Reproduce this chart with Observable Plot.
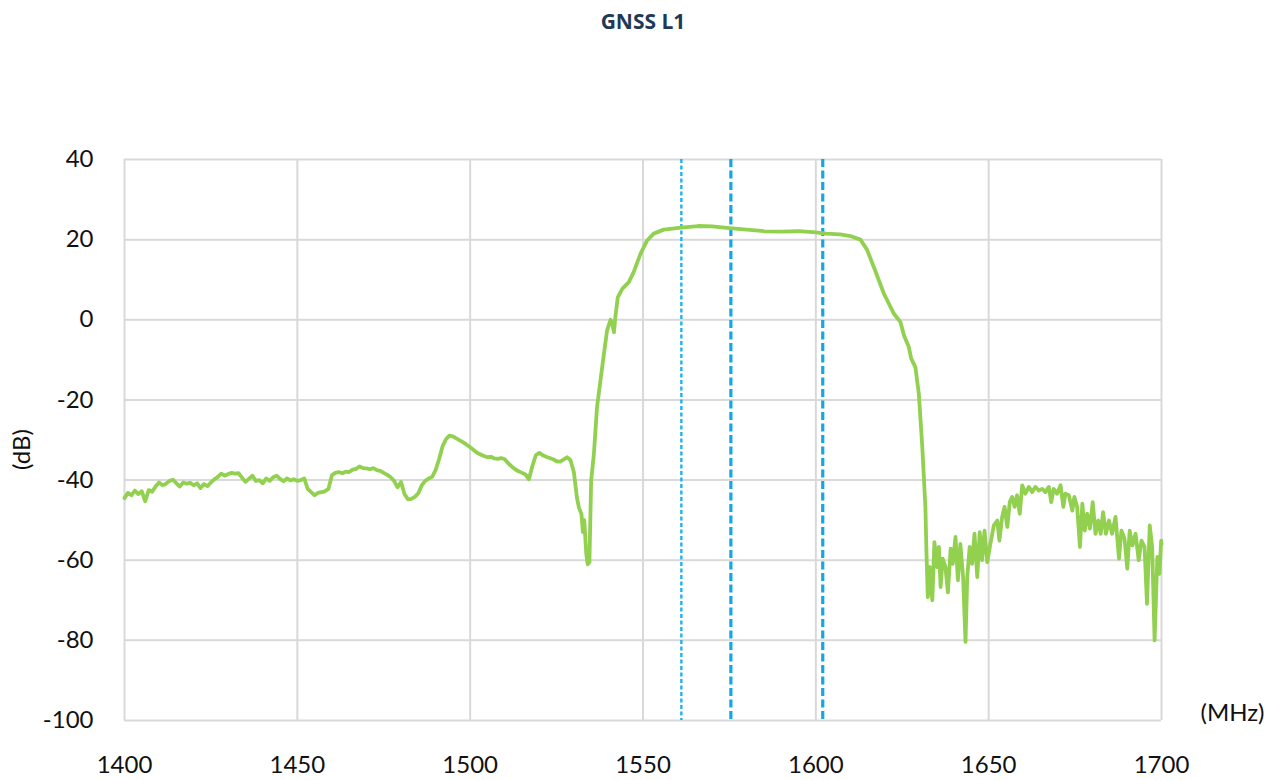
<!DOCTYPE html>
<html>
<head>
<meta charset="utf-8">
<script src="https://cdn.jsdelivr.net/npm/d3@7"></script>
<script src="https://cdn.jsdelivr.net/npm/@observablehq/plot@0.6"></script>
<style>
  html, body { margin: 0; padding: 0; background: #fff; }
  #chart { width: 1283px; height: 780px; }
</style>
</head>
<body>
<div id="chart"></div>
<script>
const title = "GNSS L1";
const yLabel = "(dB)";
const xLabel = "(MHz)";
const xTicks = [1400, 1450, 1500, 1550, 1600, 1650, 1700];
const yTicks = [40, 20, 0, -20, -40, -60, -80, -100];
const markers = [1561.098, 1575.42, 1602];

const freq = [
  1400,1401,1402,1403,1404,1405,1406,1407,1408,1409,1410,1411,1412,1413,1414,1415,1416,1417,1418,1419,
  1420,1421,1422,1423,1424,1425,1426,1427,1428,1429,1430,1431,1432,1433,1434,1435,1436,1437,1438,1439,
  1440,1441,1442,1443,1444,1445,1446,1447,1448,1449,1450,1451,1452,1453,1454,1455,1456,1457,1458,1459,
  1460,1461,1462,1463,1464,1465,1466,1467,1468,1469,1470,1471,1472,1473,1474,1475,1476,1477,1478,1479,
  1480,1481,1482,1483,1484,1485,1486,1487,1488,1489,1490,1491,1492,1493,1494,1495,1496,1497,1498,1499,
  1500,1501,1502,1503,1504,1505,1506,1507,1508,1509,1510,1511,1512,1513,1514,1515,1516,1517,1518,1519,
  1520,1521,1522,1523,1524,1525,1526,1527,1528,1529,1530,1530.9,1531.5,1532.2,1532.6,1533.0,1533.6,1534.0,1534.5,
  1535.0,1535.8,1536.7,1537.7,1538.7,1539.6,1540.6,1541.1,1541.6,1542.0,1542.7,1544.0,1545.9,1547.3,1549.3,
  1551.2,1553.1,1556.0,1561,1566,1570,1575,1580,1585,1590,1595,1600,1603,1607,1610,1612.9,1614.8,1616.8,
  1619.7,1622.6,1624.5,1625.5,1626.9,1627.6,1628.8,1629.8,1630.8,1631.7,1632.0,1632.4,1633.0,1633.7,
  1634.3,1635.1,1635.6,1636.1,1636.7,1637.5,1638.2,1639.0,1639.6,1640.4,1641.1,1641.8,1642.6,1643.3,1643.8,
  1644.5,1645.2,1645.9,1646.7,1647.4,1648.1,1648.8,1649.6,1650.5,1651.5,1652.5,1653.1,1653.9,1654.6,1655.4,
  1656.1,1656.8,1657.5,1658.2,1659.0,1659.7,1660.6,1661.6,1662.6,1663.5,1664.5,1665.5,1666.4,1667.4,1668.1,
  1668.8,1669.8,1670.8,1671.6,1672.2,1673.2,1674.2,1674.8,1675.6,1676.4,1677.1,1677.8,1678.5,1679.3,1680.1,
  1680.9,1681.7,1682.4,1683.1,1683.9,1684.8,1685.7,1686.7,1687.7,1688.4,1689.3,1690.1,1690.8,1691.6,1692.5,
  1693.4,1694.2,1695.1,1695.8,1696.6,1697.3,1698.0,1698.8,1699.4,1699.9,1700
];
const gain = [
  -44.5,-43.2,-43.8,-42.6,-43.5,-42.8,-45.3,-42.5,-42.9,-41.6,-40.6,-41.3,-40.9,-40.2,-39.9,-40.8,-41.6,-40.6,-40.9,-40.7,
  -41.3,-40.8,-42.0,-41.0,-41.5,-40.6,-39.8,-39.2,-38.4,-38.9,-38.5,-38.2,-38.4,-38.3,-39.4,-40.4,-39.7,-38.9,-40.2,-40.0,
  -40.8,-39.6,-40.2,-39.3,-38.9,-39.7,-40.3,-39.6,-40.1,-39.8,-40.2,-40.0,-39.6,-42.2,-43.0,-43.8,-43.2,-43.0,-42.8,-42.2,
  -38.8,-38.2,-38.0,-38.3,-37.9,-38.0,-37.4,-37.2,-36.6,-37.0,-37.1,-37.3,-37.0,-37.5,-37.7,-38.2,-38.7,-39.3,-40.2,-41.8,
  -40.5,-43.5,-44.8,-44.7,-44.2,-43.3,-41.3,-40.2,-39.6,-39.2,-37.5,-34.8,-31.6,-29.8,-28.9,-29.1,-29.6,-30.1,-30.6,-31.2,
  -31.8,-32.5,-33.2,-33.6,-34.0,-34.3,-34.2,-34.6,-34.7,-34.5,-34.8,-35.8,-36.6,-37.3,-37.8,-38.2,-38.6,-39.8,-36.5,-33.8,
  -33.2,-33.8,-34.2,-34.5,-34.8,-35.3,-35.4,-34.9,-34.3,-35.0,-38.0,-44.5,-47.0,-48.5,-53.0,-50.0,-58.5,-61.0,-60.5,
  -40.1,-33.4,-21.8,-15.1,-8.5,-2.7,0,-1,-3.1,0.7,5.6,7.7,9.4,11.9,16.5,
  19.8,21.5,22.5,23.0,23.4,23.3,22.9,22.5,22.1,22.0,22.1,21.8,21.5,21.3,20.9,20.0,17.5,13.1,
  6.5,1.5,-0.6,-3.9,-6.8,-9.7,-11.8,-18.5,-31.8,-46.8,-58.0,-69.2,-61.7,-70.0,
  -55.5,-61.7,-56.7,-66.7,-59.6,-61.7,-68.0,-57.1,-60.9,-54.2,-65.0,-55.9,-64.2,-80.4,-64.2,
  -56.7,-60.9,-53.4,-64.2,-53.0,-60.0,-52.6,-60.5,-55.9,-51.3,-50.1,-55.1,-49.2,-46.7,-51.7,
  -45.5,-44.2,-46.7,-43.8,-48.4,-41.3,-43.4,-41.7,-43.0,-41.7,-42.6,-42.2,-43.0,-41.7,-45.5,
  -42.2,-43.4,-41.3,-46.7,-43.4,-43.8,-47.6,-44.2,-46.7,-56.7,-45.9,-52.6,-48.4,-52.1,-45.5,
  -53.4,-50.1,-53.4,-48.0,-53.4,-50.1,-53.4,-49.2,-59.6,-52.6,-54.6,-62.1,-52.6,-56.3,-53.4,
  -60.0,-55.1,-56.7,-70.9,-51.3,-56.7,-80.0,-59.2,-63.4,-55.1,-56.0
];

const data = freq.map((f, i) => ({f, g: gain[i]}));
const font = "Lato, 'Open Sans', sans-serif";

const chart = Plot.plot({
  width: 1283,
  height: 780,
  marginLeft: 124,
  marginRight: 122,
  marginTop: 159,
  marginBottom: 60,
  style: {fontFamily: font, fontSize: "24px", color: "#111", background: "transparent"},
  x: {domain: [1400, 1700]},
  y: {domain: [-100, 40]},
  marks: [
    Plot.ruleX(xTicks, {stroke: "#d9d9d9", strokeWidth: 2}),
    Plot.ruleY(yTicks, {stroke: "#d9d9d9", strokeWidth: 2}),
    Plot.axisX({ticks: xTicks, tickSize: 0, tickPadding: 35, tickFormat: d => String(d), label: null, fontSize: 24}),
    Plot.axisY({ticks: yTicks, tickSize: 0, tickPadding: 31, tickFormat: d => String(d), label: null, fontSize: 24}),
    Plot.ruleX([markers[0]], {stroke: "#1fb3ee", strokeWidth: 2.4, strokeDasharray: "4,2.5"}),
    Plot.ruleX(markers.slice(1), {stroke: "#14a7e6", strokeWidth: 3.2, strokeDasharray: "8,3.5"}),
    Plot.line(data, {x: "f", y: "g", stroke: "#92d050", strokeWidth: 3.8, strokeLinejoin: "round", strokeLinecap: "round", curve: "linear"}),
    Plot.text([yLabel], {frameAnchor: "left", dx: -102, dy: 30, rotate: -90, fontSize: 24, fill: "#111", text: d => d}),
    Plot.text([xLabel], {frameAnchor: "bottom-right", dx: 71, dy: 0, textAnchor: "middle", fontSize: 24, fill: "#111", text: d => d}),
    Plot.text([title], {frameAnchor: "top", dy: -145, fontSize: 21, fontWeight: "bold", fill: "#1f3a56", fontFamily: "'Open Sans', sans-serif", text: d => d})
  ]
});
document.getElementById("chart").appendChild(chart);
</script>
</body>
</html>
